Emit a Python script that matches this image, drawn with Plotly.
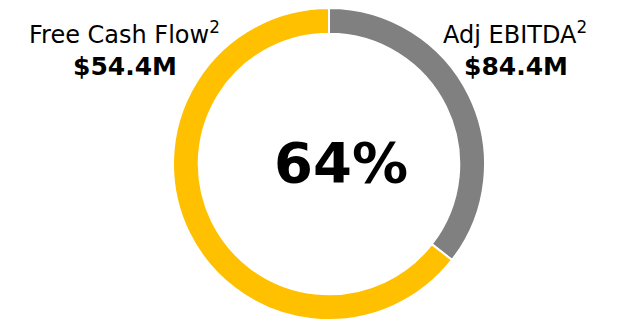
import plotly.graph_objects as go

# Data
fcf_value = 54.4          # Free Cash Flow ($M)
ebitda_value = 84.4       # Adj EBITDA ($M)
conversion_pct = round(fcf_value / ebitda_value * 100)
slice_labels = ["Remainder", "Free Cash Flow"]
slice_values = [ebitda_value - fcf_value, fcf_value]
slice_colors = ["#808080", "#FFC000"]

# page body has an 8px default margin, so the figure is 8px smaller
OFF = 8
W, H = 620 - OFF, 320 - OFF
fig = go.Figure()
fig.add_trace(go.Pie(
    labels=slice_labels, values=slice_values,
    marker=dict(colors=slice_colors, line=dict(color="white", width=2)),
    hole=0.835, sort=False, direction="clockwise", rotation=0,
    textinfo="none", hoverinfo="label+value", showlegend=False,
    domain=dict(x=[0.264, 0.785], y=[0, 1]),
))

def px(x, y):
    return (x - OFF) / W, 1 - (y - OFF) / H

font_reg = "DejaVu Sans, sans-serif"
font_bold = "DejaVu Sans, sans-serif"
ann = []
x, y = px(124, 33)
ann.append(dict(x=x, y=y, text="Free Cash Flow<sup>2</sup>", font=dict(size=24, family=font_reg, color="black")))
x, y = px(125, 66)
ann.append(dict(x=x, y=y, text=f"<b>${fcf_value}M</b>", font=dict(size=25, family=font_bold, color="black")))
x, y = px(515, 33)
ann.append(dict(x=x, y=y, text="Adj EBITDA<sup>2</sup>", font=dict(size=24, family=font_reg, color="black")))
x, y = px(516, 66)
ann.append(dict(x=x, y=y, text=f"<b>${ebitda_value}M</b>", font=dict(size=25, family=font_bold, color="black")))
x, y = px(341, 162)
ann.append(dict(x=x, y=y, text=f"<b>{conversion_pct}%</b>", font=dict(size=56, family=font_bold, color="black")))
for a in ann:
    a.update(xref="paper", yref="paper", showarrow=False, xanchor="center", yanchor="middle")

fig.update_layout(
    width=W, height=H, margin=dict(l=0, r=0, t=0, b=0),
    paper_bgcolor="white", plot_bgcolor="white", annotations=ann,
)
fig.write_html("out.html")
